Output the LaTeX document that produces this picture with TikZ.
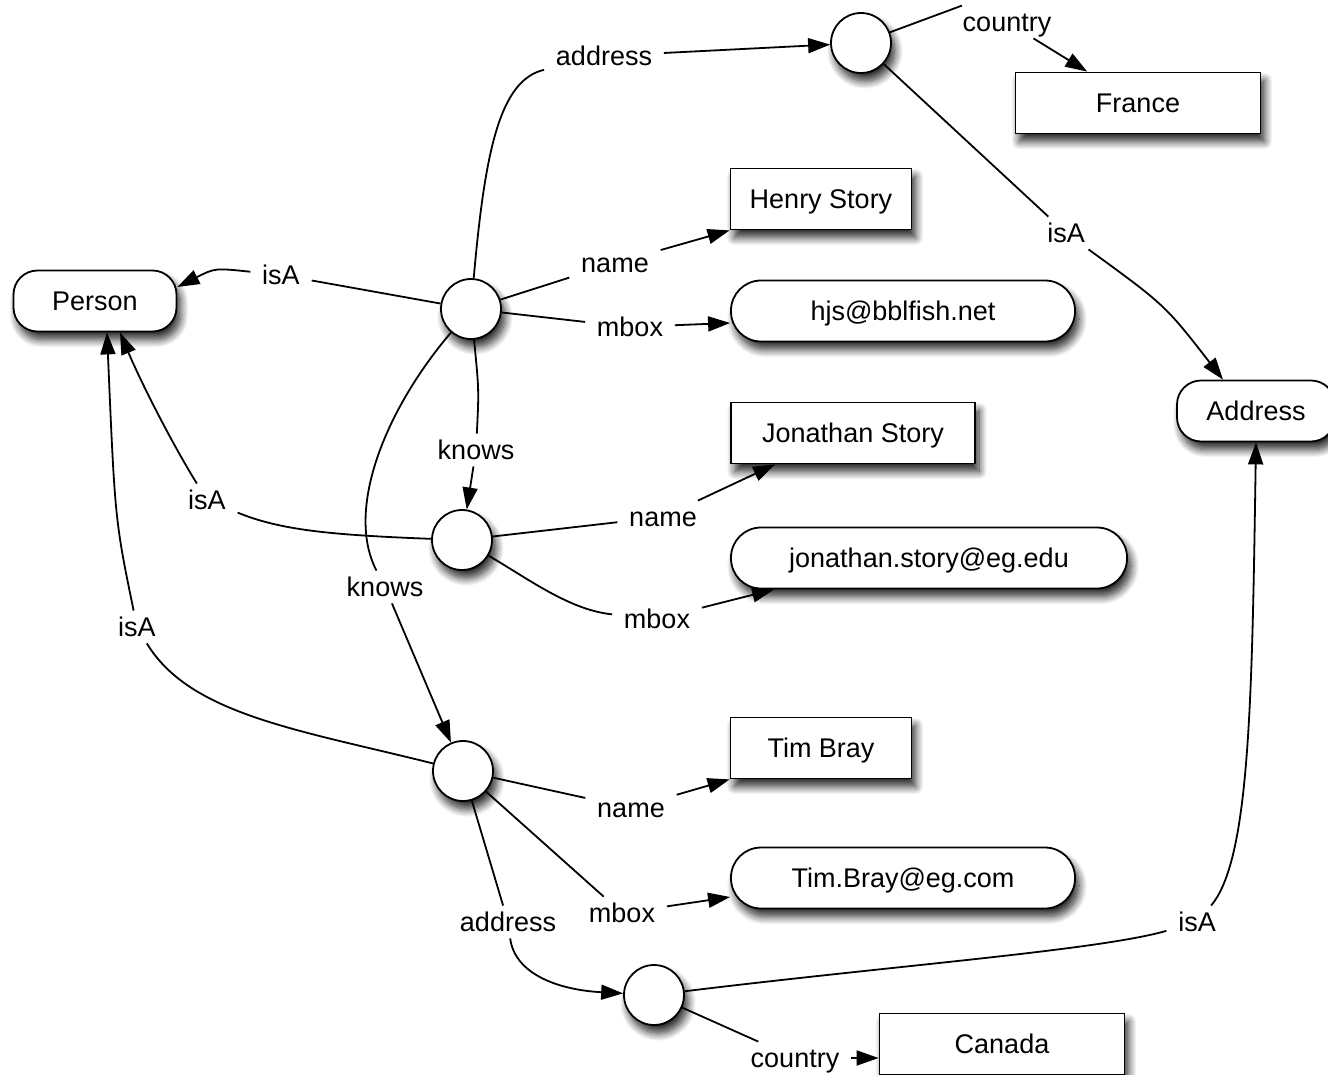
\documentclass[tikz,border=0pt]{standalone}
\usepackage{fontspec}
\setmainfont{Liberation Sans}
\usetikzlibrary{arrows.meta,shadows.blur}
\begin{document}
\begin{tikzpicture}[x=1pt,y=-1pt,line width=1.8pt,
  font=\fontsize{27}{32}\selectfont,
  shad/.style={blur shadow={shadow xshift=4pt,shadow yshift=-8pt,shadow blur radius=8pt,shadow blur steps=10,shadow opacity=85}},
  res/.style={draw,fill=white,shad,minimum height=61pt,inner sep=0pt,text height=21pt,text depth=2pt},
  cls/.style={res,rounded corners=24pt},
  lit/.style={res,rounded corners=30pt},
  blank/.style={circle,draw,fill=white,shad,minimum size=60pt,inner sep=0pt},
  lbl/.style={inner xsep=11pt,inner ysep=4pt,text height=21pt,text depth=2pt},
  arr/.style={-{Triangle[length=22pt,width=15pt]}}]
\useasboundingbox (0,0) rectangle (1328,1074);
% resources
\node[cls,minimum width=163pt] (Person) at (95,301) {Person};
\node[cls,minimum width=158pt] (Address) at (1256,411) {Address};
\node[res,minimum width=245pt] (France) at (1138,103) {France};
\node[res,minimum width=181pt] (Henry) at (821,199) {Henry Story};
\node[lit,minimum width=344pt] (hjs) at (903,311) {hjs@bblfish.net};
\node[res,minimum width=244pt] (JS) at (853,433) {Jonathan Story};
\node[lit,minimum width=396pt] (jmbox) at (929,558) {jonathan.story@eg.edu};
\node[res,minimum width=181pt] (TB) at (821,748) {Tim Bray};
\node[lit,minimum width=344pt] (tmbox) at (903,878) {Tim.Bray@eg.com};
\node[res,minimum width=245pt] (Canada) at (1002,1044) {Canada};
% blank nodes
\node[blank] (A1) at (861,43) {};
\node[blank] (H) at (471,309) {};
\node[blank] (J) at (462,540) {};
\node[blank] (T) at (463,771) {};
\node[blank] (A2) at (654,995) {};
% labels
\node[lbl] (l1) at (604,56) {address};
\node[lbl] (l2) at (1007,22) {country};
\node[lbl] (l3) at (1066,233) {isA};
\node[lbl] (l4) at (281,275) {isA};
\node[lbl] (l5) at (615,263) {name};
\node[lbl] (l6) at (630,327) {mbox};
\node[lbl] (l7) at (476,450) {knows};
\node[lbl] (l8) at (385,587) {knows};
\node[lbl] (l9) at (207,500) {isA};
\node[lbl] (l10) at (663,517) {name};
\node[lbl] (l11) at (657,619) {mbox};
\node[lbl] (l12) at (137,627) {isA};
\node[lbl] (l13) at (631,808) {name};
\node[lbl] (l14) at (622,913) {mbox};
\node[lbl] (l15) at (508,922) {address};
\node[lbl] (l16) at (1197,922) {isA};
\node[lbl] (l17) at (795,1058) {country};
% edges
\draw (H) .. controls (485,150) and (500,80) .. (l1);
\draw[arr] (l1) -- (A1);
\draw (A1) -- (l2.160);
\draw[arr] (l2) -- (France);
\draw (A1) -- (l3);
\draw[arr] (l3) .. controls (1165,305) .. ([xshift=-33pt]Address.north);
\draw (H) -- (l4);
\draw[arr] (l4) .. controls (215,268) .. ([yshift=14pt]Person.east);
\draw (H) -- (l5);
\draw[arr] (l5) -- (Henry.south west);
\draw (H) -- (l6);
\draw[arr] (l6) -- ([yshift=-12pt]hjs.west);
\draw (H) .. controls (479,390) .. (l7);
\draw[arr] (l7) -- (J);
\draw (H) .. controls (385,410) and (345,510) .. (l8);
\draw[arr] (l8) -- (T);
\draw (J) .. controls (330,535) and (280,530) .. (l9);
\draw[arr] (l9) .. controls (170,440) and (140,380) .. ([xshift=25pt]Person.south);
\draw (J) -- (l10);
\draw[arr] (l10) -- ([xshift=45pt]JS.south west);
\draw (J) .. controls (530,580) and (570,610) .. (l11);
\draw[arr] (l11) -- ([xshift=44pt]jmbox.south west);
\draw (T) .. controls (300,730) and (190,715) .. (l12);
\draw[arr] (l12) .. controls (115,520) .. ([xshift=12pt]Person.south);
\draw (T) -- (l13);
\draw[arr] (l13) -- (TB.south west);
\draw (T) -- (l14);
\draw[arr] (l14) -- ([yshift=-19pt]tmbox.west);
\draw (T) -- (l15);
\draw[arr] (l15) .. controls (515,975) and (560,990) .. (A2);
\draw (A2) .. controls (900,965) and (1100,950) .. (l16);
\draw[arr] (l16) .. controls (1250,860) and (1252,700) .. (Address.south);
\draw (A2) -- (l17);
\draw[arr] (l17.east) -- (l17.east -| Canada.west);
\end{tikzpicture}
\end{document}
